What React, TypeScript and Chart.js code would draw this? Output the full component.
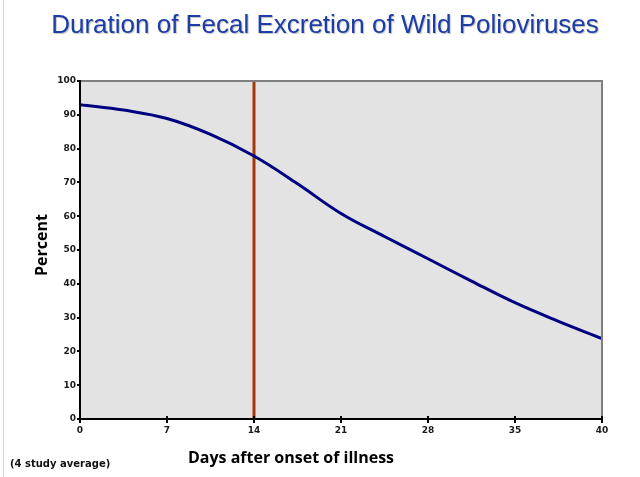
import React, { useEffect, useRef } from "react";
import { Chart, registerables } from "chart.js";

Chart.register(...registerables);

const titleText = "Duration of Fecal Excretion of Wild Polioviruses";
const yTitle = "Percent";
const xTitle = "Days after onset of illness";
const footnote = "(4 study average)";

const xTickLabels = ["0", "7", "14", "21", "28", "35", "40"];
const curvePos = [0, 0.5, 1, 1.5, 2, 2.5, 3, 3.5, 4, 4.5, 5, 5.5, 6];
const curvePercent = [93, 91.4, 88.9, 84.2, 77.8, 69.6, 60.8, 54, 47.4, 40.8, 34.4, 28.9, 23.8];
const markerPos = [2, 2];
const markerPercent = [0, 100];

const decorPlugin = {
  id: "decor",
  beforeDraw(chart: any) {
    const { ctx, chartArea } = chart;
    ctx.save();
    ctx.fillStyle = "#ffffff";
    ctx.fillRect(0, 0, chart.width, chart.height);
    ctx.strokeStyle = "#d9d9d9";
    ctx.lineWidth = 1;
    ctx.beginPath();
    ctx.moveTo(3.5, 0);
    ctx.lineTo(3.5, chart.height);
    ctx.stroke();
    ctx.fillStyle = "#e3e3e3";
    ctx.fillRect(chartArea.left, chartArea.top, chartArea.right - chartArea.left, chartArea.bottom - chartArea.top);
    ctx.restore();
  },
  afterDraw(chart: any) {
    const { ctx, chartArea } = chart;
    ctx.save();
    // frame top/right
    ctx.strokeStyle = "#7f7f7f";
    ctx.lineWidth = 2;
    ctx.beginPath();
    ctx.moveTo(chartArea.left, chartArea.top);
    ctx.lineTo(chartArea.right, chartArea.top);
    ctx.lineTo(chartArea.right, chartArea.bottom);
    ctx.stroke();
    // axes
    ctx.strokeStyle = "#000000";
    ctx.lineWidth = 2;
    ctx.beginPath();
    ctx.moveTo(chartArea.left, chartArea.top);
    ctx.lineTo(chartArea.left, chartArea.bottom);
    ctx.lineTo(chartArea.right, chartArea.bottom);
    ctx.stroke();
    // x ticks crossing axis
    const xs = chart.scales.x;
    ctx.lineWidth = 2;
    xs.ticks.forEach((t: any) => {
      const px = Math.round(xs.getPixelForValue(t.value));
      ctx.beginPath();
      ctx.moveTo(px, chartArea.bottom - 3);
      ctx.lineTo(px, chartArea.bottom + 4);
      ctx.stroke();
    });
    // y ticks
    const ys = chart.scales.y;
    ys.ticks.forEach((t: any) => {
      const py = Math.round(ys.getPixelForValue(t.value));
      ctx.beginPath();
      ctx.moveTo(chartArea.left - 3, py);
      ctx.lineTo(chartArea.left + 1, py);
      ctx.stroke();
    });
    // title
    ctx.save();
    ctx.font = "26px 'Liberation Sans', Arial, sans-serif";
    ctx.fillStyle = "#1c3ca6";
    ctx.textAlign = "center";
    ctx.textBaseline = "alphabetic";
    ctx.shadowColor = "rgba(0,0,0,0.25)";
    ctx.shadowOffsetX = 1;
    ctx.shadowOffsetY = 1;
    ctx.shadowBlur = 1;
    ctx.fillText(titleText, 325, 33);
    ctx.restore();
    // y title
    ctx.save();
    ctx.font = "bold 16px 'Open Sans', sans-serif";
    ctx.fillStyle = "#000000";
    ctx.textAlign = "center";
    ctx.textBaseline = "middle";
    ctx.translate(42, 245);
    ctx.rotate(-Math.PI / 2);
    ctx.fillText(yTitle, 0, 0);
    ctx.restore();
    // x title
    ctx.font = "bold 16px 'Open Sans', sans-serif";
    ctx.fillStyle = "#000000";
    ctx.textAlign = "center";
    ctx.textBaseline = "alphabetic";
    ctx.fillText(xTitle, 291, 463);
    // footnote
    ctx.font = "bold 10px 'DejaVu Sans', sans-serif";
    ctx.textAlign = "left";
    ctx.textBaseline = "middle";
    ctx.fillStyle = "#111111";
    ctx.fillText(footnote, 10, 464);
    ctx.restore();
  },
};

export default function App() {
  const ref = useRef<HTMLCanvasElement | null>(null);
  useEffect(() => {
    document.body.style.margin = "0";
    const canvas = ref.current;
    if (!canvas) return;
    const tickFont = { family: "'DejaVu Sans', sans-serif", size: 9, weight: "bold" as const };
    const chart = new Chart(canvas, {
      type: "line",
      data: {
        datasets: [
          {
            data: curvePos.map((x, i) => ({ x, y: curvePercent[i] })),
            borderColor: "#000080",
            borderWidth: 3,
            pointRadius: 0,
            tension: 0.4,
            fill: false,
          },
          {
            data: markerPos.map((x, i) => ({ x, y: markerPercent[i] })),
            borderColor: "#a3390c",
            borderWidth: 3,
            pointRadius: 0,
            fill: false,
          },
        ],
      },
      plugins: [decorPlugin],
      options: {
        responsive: false,
        animation: false,
        devicePixelRatio: 1,
        layout: { padding: { top: 81, right: 38, left: 0, bottom: 0 } },
        plugins: {
          legend: { display: false },
          tooltip: { enabled: false },
          title: { display: false },
        },
        scales: {
          x: {
            type: "linear",
            min: 0,
            max: 6,
            afterFit: (s: any) => {
              s.height = 58;
            },
            grid: { display: false, drawTicks: false },
            border: { display: false },
            ticks: {
              stepSize: 1,
              padding: 6,
              color: "#1a1a1a",
              font: tickFont,
              callback: (v: any) => xTickLabels[Math.round(Number(v))] ?? "",
            },
          },
          y: {
            type: "linear",
            min: 0,
            max: 100,
            afterFit: (s: any) => {
              s.width = 80;
            },
            grid: { display: false, drawTicks: false },
            border: { display: false },
            ticks: {
              stepSize: 10,
              padding: 4,
              color: "#1a1a1a",
              font: tickFont,
            },
          },
        },
      },
    });
    return () => chart.destroy();
  }, []);
  return <canvas ref={ref} width={640} height={477} style={{ display: "block" }} />;
}
